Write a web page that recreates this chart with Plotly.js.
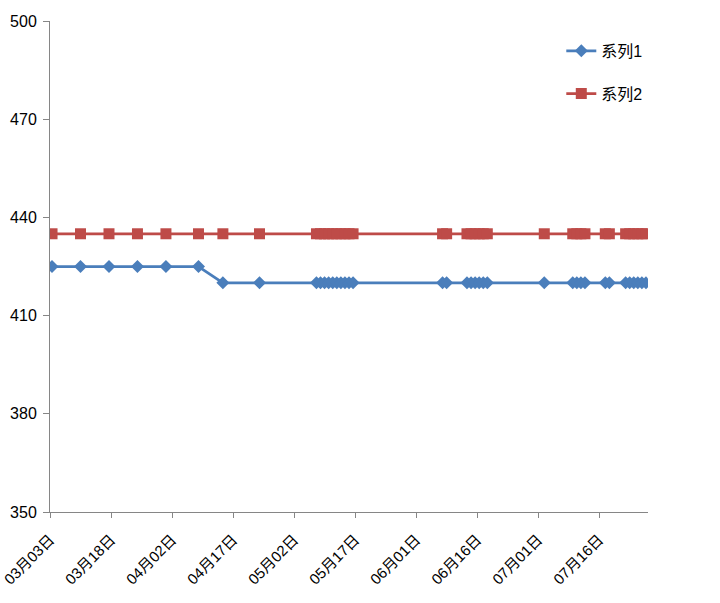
<!DOCTYPE html>
<html>
<head>
<meta charset="utf-8">
<script src="https://cdn.plot.ly/plotly-3.0.1.min.js"></script>
<style>html,body{margin:0;padding:0;background:#fff;}#chart{width:720px;height:603px;}</style>
</head>
<body>
<div id="chart"></div>
<script>
// Dates (year assumed)
var dates = [
  '2014-03-03','2014-03-10','2014-03-17','2014-03-24','2014-03-31','2014-04-08','2014-04-14','2014-04-23',
  '2014-05-07','2014-05-08','2014-05-09','2014-05-10','2014-05-11','2014-05-12','2014-05-13','2014-05-14','2014-05-15','2014-05-16',
  '2014-06-07','2014-06-08',
  '2014-06-13','2014-06-14','2014-06-15','2014-06-16','2014-06-17','2014-06-18',
  '2014-07-02',
  '2014-07-09','2014-07-10','2014-07-11','2014-07-12',
  '2014-07-17','2014-07-18',
  '2014-07-22','2014-07-23','2014-07-24','2014-07-25','2014-07-26','2014-07-27'
];
var series1 = [425,425,425,425,425,425,420,420,
  420,420,420,420,420,420,420,420,420,420,
  420,420,
  420,420,420,420,420,420,
  420,
  420,420,420,420,
  420,420,
  420,420,420,420,420,420];
var series2 = [435,435,435,435,435,435,435,435,
  435,435,435,435,435,435,435,435,435,435,
  435,435,
  435,435,435,435,435,435,
  435,
  435,435,435,435,
  435,435,
  435,435,435,435,435,435];
var seriesNames = ['系列1','系列2'];
var yTicks = [350,380,410,440,470,500];

// Excel date axis puts each point in the middle of its day slot
var xPos = dates.map(function(d){ return d + ' 12:00'; });

var font = 'Liberation Sans, Noto Sans CJK SC, sans-serif';
var traces = [
  {x: xPos, y: series1, name: seriesNames[0], type: 'scatter', mode: 'lines+markers',
   line: {color: '#4A7EBB', width: 2.75}, marker: {symbol: 'diamond', size: 10, color: '#4A7EBB'},
   legend: 'legend'},
  {x: xPos, y: series2, name: seriesNames[1], type: 'scatter', mode: 'lines+markers',
   line: {color: '#BE4B48', width: 2.75}, marker: {symbol: 'square', size: 11, color: '#BE4B48'},
   legend: 'legend2'}
];
var layout = {
  width: 720, height: 603,
  margin: {l: 50, r: 72, t: 21, b: 91},
  paper_bgcolor: '#fff', plot_bgcolor: '#fff',
  font: {family: font, size: 14, color: '#000'},
  xaxis: {
    type: 'date',
    range: ['2014-03-03', '2014-07-28'],
    tick0: '2014-03-03', dtick: 15*86400000,
    tickformat: '%m月%d日', tickangle: -45,
    ticks: 'outside', ticklen: 5, tickcolor: '#868686',
    ticklabelstandoff: 7,
    showline: true, linecolor: '#868686', linewidth: 1,
    showgrid: false, zeroline: false,
    tickfont: {family: font, size: 15, color: '#000'}
  },
  yaxis: {
    range: [350, 500], tickvals: yTicks,
    ticks: 'outside', ticklen: 6, tickcolor: '#868686',
    ticklabelstandoff: 3,
    showline: true, linecolor: '#868686', linewidth: 1,
    showgrid: false, zeroline: false,
    tickfont: {family: font, size: 16, color: '#000'}
  },
  legend: {x: 0.855, y: 0.939, xanchor: 'left', yanchor: 'middle', bgcolor: 'rgba(0,0,0,0)',
    font: {family: font, size: 16, color: '#000'}},
  legend2: {x: 0.855, y: 0.852, xanchor: 'left', yanchor: 'middle', bgcolor: 'rgba(0,0,0,0)',
    font: {family: font, size: 16, color: '#000'}},
  showlegend: true
};
Plotly.newPlot('chart', traces, layout, {displayModeBar: false, staticPlot: true});
</script>
</body>
</html>
